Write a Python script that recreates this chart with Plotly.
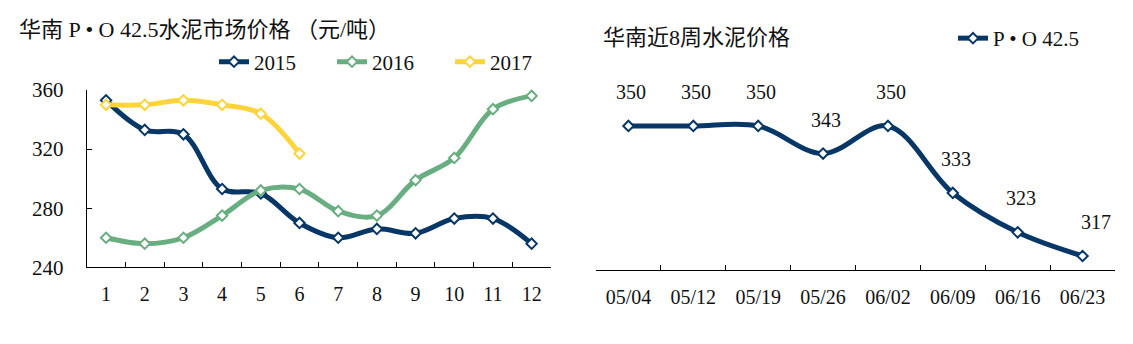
import plotly.graph_objects as go

# ---- data -------------------------------------------------------------
months = ["1", "2", "3", "4", "5", "6", "7", "8", "9", "10", "11", "12"]
price_2015 = [353, 333, 330, 293, 290, 270, 260, 266, 263, 273, 273, 256]
price_2016 = [260, 256, 260, 275, 292, 293, 278, 275, 299, 314, 347, 356]
price_2017 = [350, 350, 353, 350, 344, 317]

weeks = ["05/04", "05/12", "05/19", "05/26", "06/02", "06/09", "06/16", "06/23"]
weekly_price = [350, 350, 350, 343, 350, 333, 323, 317]

left_title = "华南 P • O 42.5水泥市场价格 （元/吨）"
right_title = "华南近8周水泥价格"
right_series_name = "P • O 42.5"

# ---- styling ------------------------------------------------------------
W, H = 1133, 344
FONT = "Liberation Serif, Times New Roman, Noto Sans CJK SC, serif"
NAVY = "#063767"
GREEN = "#69AE80"
YELLOW = "#FFD43B"
TEXT = "#111111"


def fx(px):
    return px / W


def fy(px):
    return 1 - px / H


def series(x, y, name, color, xa, ya, legend):
    return go.Scatter(
        x=x, y=y, name=name, mode="lines+markers",
        xaxis=xa, yaxis=ya, legend=legend, cliponaxis=False,
        line=dict(color=color, width=5, shape="spline", smoothing=1),
        marker=dict(symbol="diamond", size=8, color="white",
                    line=dict(color=color, width=2)),
    )


fig = go.Figure()
fig.add_trace(series(months, price_2015, "2015", NAVY, "x", "y", "legend"))
fig.add_trace(series(months, price_2016, "2016", GREEN, "x", "y", "legend"))
fig.add_trace(series(months[:len(price_2017)], price_2017, "2017", YELLOW,
                     "x", "y", "legend"))
fig.add_trace(series(weeks, weekly_price, right_series_name, NAVY,
                     "x2", "y2", "legend2"))

# value labels above the weekly points
label_xshift = [3, 3, 3, 3, 3, 3, 3, 13]
annotations = []
for wk, val, dx in zip(weeks, weekly_price, label_xshift):
    annotations.append(dict(
        x=wk, y=val, xref="x2", yref="y2", text=str(val), showarrow=False,
        yshift=34, xshift=dx, font=dict(family=FONT, size=20, color=TEXT)))

annotations.append(dict(
    x=fx(17), y=fy(29.5), xref="paper", yref="paper", text=left_title,
    showarrow=False, xanchor="left", yanchor="middle",
    font=dict(family=FONT, size=22, color=TEXT)))
annotations.append(dict(
    x=fx(601), y=fy(37.5), xref="paper", yref="paper", text=right_title,
    showarrow=False, xanchor="left", yanchor="middle",
    font=dict(family=FONT, size=22, color=TEXT)))

axis_common = dict(showline=True, linecolor="black", linewidth=1,
                   showgrid=False, zeroline=False, ticks="inside",
                   ticklen=5, tickcolor="black", tickwidth=1,
                   automargin=False)
tick_font = dict(family=FONT, size=20, color=TEXT)

fig.update_layout(
    width=W, height=H,
    margin=dict(l=0, r=0, t=0, b=0, autoexpand=False),
    paper_bgcolor="white", plot_bgcolor="white",
    font=dict(family=FONT, color=TEXT),
    showlegend=True,
    xaxis=dict(domain=[fx(86.7), fx(551)], type="category", anchor="y",
               range=[-0.5, len(months) - 0.5], tickfont=tick_font,
               tickson="boundaries", ticklabelstandoff=9, **axis_common),
    yaxis=dict(domain=[fy(267.3), fy(90)], range=[240, 360], dtick=40,
               anchor="x", ticklabelstandoff=18,
               tickfont=dict(family=FONT, size=21, color=TEXT),
               **axis_common),
    xaxis2=dict(domain=[fx(596), fx(1115)], type="category", anchor="y2",
                range=[-0.5, len(weeks) - 0.5], tickfont=tick_font,
                tickson="boundaries", ticklabelstandoff=9, **axis_common),
    yaxis2=dict(domain=[fy(270), fy(70)], range=[313.45, 364.2],
                anchor="x2", visible=False, automargin=False),
    legend=dict(orientation="h", x=fx(214), y=fy(62), xanchor="left",
                yanchor="middle", bgcolor="rgba(0,0,0,0)",
                entrywidth=73, entrywidthmode="pixels",
                font=dict(family=FONT, size=21, color=TEXT)),
    legend2=dict(orientation="h", x=fx(953), y=fy(38.5), xanchor="left",
                 yanchor="middle", bgcolor="rgba(0,0,0,0)",
                 font=dict(family=FONT, size=21, color=TEXT)),
    annotations=annotations,
)

fig.write_html("out.html")
